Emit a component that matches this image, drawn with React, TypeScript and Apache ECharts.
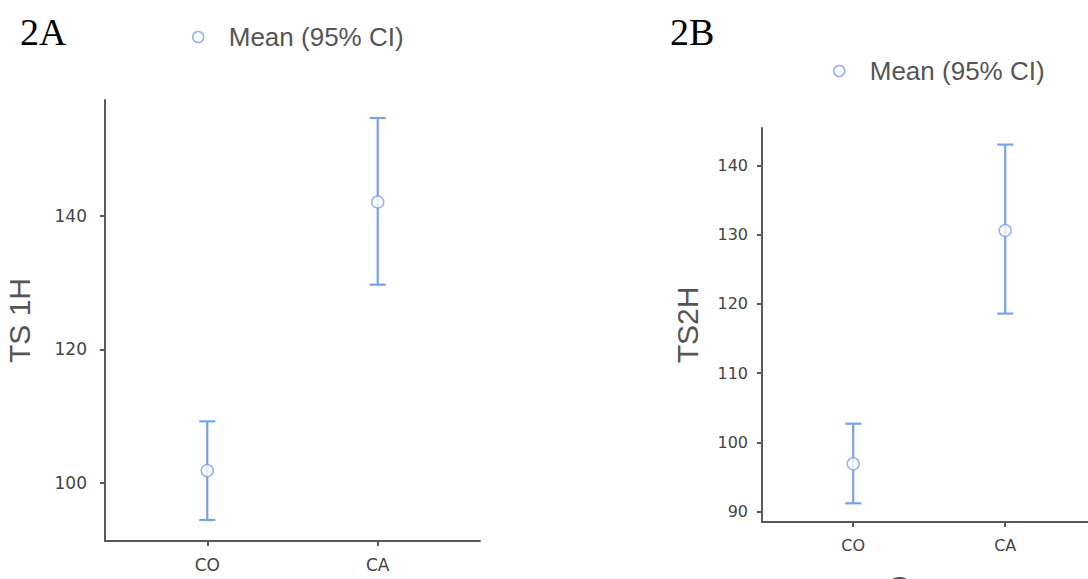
import React, { useEffect, useRef } from "react";
import * as echarts from "echarts";

const categories = ["CO", "CA"];
// Panel 2A (TS 1H)
const meanA = [101.8, 142.1];
const lowerA = [94.4, 129.7];
const upperA = [109.2, 154.7];
const ticksA = [100, 120, 140];
// Panel 2B (TS2H)
const meanB = [96.9, 130.6];
const lowerB = [91.2, 118.6];
const upperB = [102.7, 143.0];
const ticksB = [90, 100, 110, 120, 130, 140];

const seriesName = "Mean (95% CI)";
const BLUE = "#78a2e8";
const AXIS = "#5a5a5a";
const TEXT = "#555555";
const TICKTEXT = "#444444";
const SANS = "'Liberation Sans', Arial, sans-serif";
const TICKFONT = "'DejaVu Sans', Verdana, sans-serif";
const SERIF = "'Liberation Serif', 'Times New Roman', serif";

function errorRender(params: any, api: any) {
  const x = api.value(0);
  const lo = api.coord([x, api.value(1)]);
  const hi = api.coord([x, api.value(2)]);
  const cap = 8;
  const style = { stroke: BLUE, lineWidth: 2.2 };
  return {
    type: "group",
    children: [
      { type: "line", shape: { x1: lo[0], y1: lo[1], x2: hi[0], y2: hi[1] }, style },
      { type: "line", shape: { x1: hi[0] - cap, y1: hi[1], x2: hi[0] + cap, y2: hi[1] }, style },
      { type: "line", shape: { x1: lo[0] - cap, y1: lo[1], x2: lo[0] + cap, y2: lo[1] }, style },
    ],
  };
}

function xAxisCfg(gridIndex: number, fontSize: number, name?: string) {
  return {
    type: "value",
    gridIndex,
    min: 0.4,
    max: 2.6,
    name: name || "",
    nameLocation: "middle",
    nameGap: 49,
    nameTextStyle: { fontSize: 30, color: TEXT, fontFamily: SANS },
    splitLine: { show: false },
    axisLine: { show: true, lineStyle: { color: AXIS, width: 2 } },
    axisTick: {
      show: true,
      customValues: [1, 2],
      length: 5,
      lineStyle: { color: AXIS, width: 2 },
    },
    axisLabel: {
      customValues: [1, 2],
      formatter: (v: number) => categories[Math.round(v) - 1] || "",
      fontSize,
      color: TICKTEXT,
      fontFamily: TICKFONT,
      margin: 15,
    },
  };
}

function yAxisCfg(
  gridIndex: number,
  min: number,
  max: number,
  ticks: number[],
  name: string,
  nameGap: number,
  fontSize: number,
  margin: number
) {
  return {
    type: "value",
    gridIndex,
    min,
    max,
    name,
    nameLocation: "middle",
    nameGap,
    nameTextStyle: { fontSize: 30, color: TEXT, fontFamily: SANS },
    splitLine: { show: false },
    axisLine: { show: true, lineStyle: { color: AXIS, width: 2 } },
    axisTick: {
      show: true,
      customValues: ticks,
      length: 5,
      lineStyle: { color: AXIS, width: 2 },
    },
    axisLabel: {
      customValues: ticks,
      fontSize,
      color: TICKTEXT,
      fontFamily: TICKFONT,
      margin,
    },
  };
}

function legendCfg(left: number, top: number) {
  return {
    left,
    top,
    data: [{ name: seriesName, icon: "circle" }],
    itemWidth: 11,
    itemHeight: 11,
    itemStyle: { color: "#ffffff", borderColor: BLUE, borderWidth: 1.5 },
    textStyle: { fontSize: 26, color: TEXT, fontFamily: SANS, padding: [0, 0, 0, 20] },
    selectedMode: false,
  };
}

export default function App() {
  const ref = useRef<HTMLDivElement>(null);
  useEffect(() => {
    if (!ref.current) return;
    const chart = echarts.init(ref.current, undefined, { renderer: "svg" });
    const meanStyle = { color: "#ffffff", borderColor: BLUE, borderWidth: 1.5 };
    const titleStyle = { fontFamily: SERIF, fontSize: 38, fontWeight: "normal", color: "#000" };
    chart.setOption({
      animation: false,
      backgroundColor: "#ffffff",
      title: [
        { text: "2A", left: 15, top: 8, textStyle: titleStyle },
        { text: "2B", left: 665, top: 8, textStyle: titleStyle },
      ],
      legend: [legendCfg(187, 19), legendCfg(828, 53)],
      grid: [
        { left: 105, top: 100, width: 375, height: 441, outerBoundsMode: "none", containLabel: false },
        { left: 762, top: 128, width: 334.4, height: 394, outerBoundsMode: "none", containLabel: false },
      ],
      xAxis: [xAxisCfg(0, 17), xAxisCfg(1, 16, "Group")],
      yAxis: [
        yAxisCfg(0, 91.25, 157.4, ticksA, "TS 1H", 71, 17, 18),
        yAxisCfg(1, 88.5, 145.4, ticksB, "TS2H", 60, 16, 14),
      ],
      series: [
        {
          type: "custom",
          xAxisIndex: 0,
          yAxisIndex: 0,
          renderItem: errorRender,
          data: categories.map((_, i) => [i + 1, lowerA[i], upperA[i]]),
          z: 2,
        },
        {
          type: "scatter",
          name: seriesName,
          xAxisIndex: 0,
          yAxisIndex: 0,
          symbol: "circle",
          symbolSize: 12,
          itemStyle: meanStyle,
          data: categories.map((_, i) => [i + 1, meanA[i]]),
          z: 3,
        },
        {
          type: "custom",
          xAxisIndex: 1,
          yAxisIndex: 1,
          renderItem: errorRender,
          data: categories.map((_, i) => [i + 1, lowerB[i], upperB[i]]),
          z: 2,
        },
        {
          type: "scatter",
          name: seriesName,
          xAxisIndex: 1,
          yAxisIndex: 1,
          symbol: "circle",
          symbolSize: 12,
          itemStyle: meanStyle,
          data: categories.map((_, i) => [i + 1, meanB[i]]),
          z: 3,
        },
      ],
    });
    return () => chart.dispose();
  }, []);
  return (
    <div
      ref={ref}
      style={{ position: "absolute", left: 0, top: 0, width: 1088, height: 579 }}
    />
  );
}
